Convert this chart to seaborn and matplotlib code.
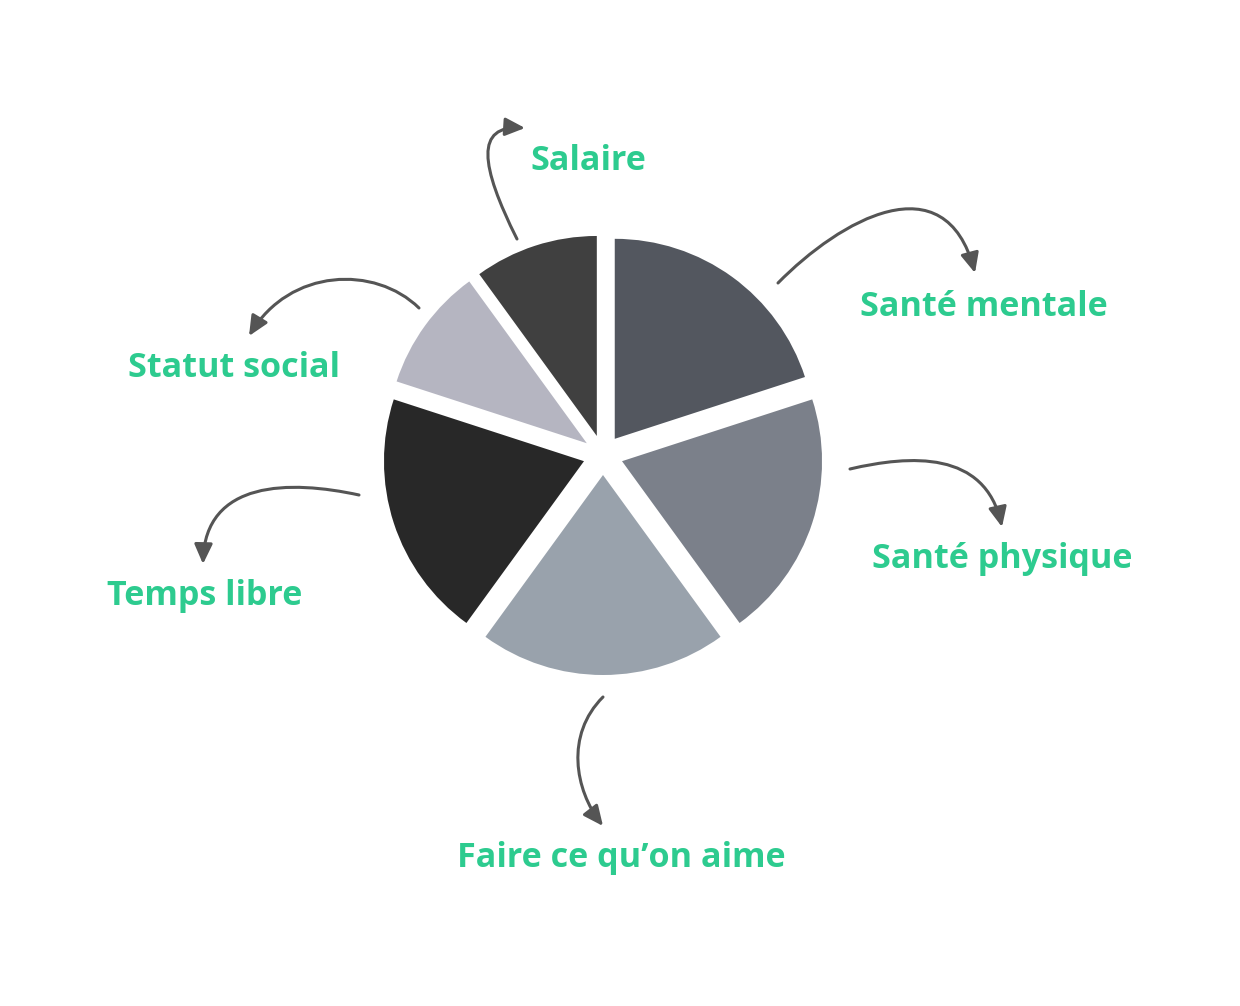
import matplotlib
matplotlib.use("Agg")
import matplotlib.pyplot as plt
import seaborn as sns
from matplotlib.path import Path
from matplotlib.patches import FancyArrowPatch

sns.set_theme(style="white")
plt.rcParams['font.family'] = ['Open Sans', 'DejaVu Sans']

# Data
categories = ["Santé mentale", "Santé physique", "Faire ce qu’on aime",
              "Temps libre", "Statut social", "Salaire"]
values = [20, 20, 20, 20, 10, 10]
colors = ["#53575f", "#7b808a", "#99a2ac", "#282828", "#b5b5c1", "#404040"]

W, H = 1240, 1006
fig = plt.figure(figsize=(W / 100, H / 100), dpi=100)
fig.patch.set_facecolor("white")

# Pie axes: center (603, 455) px, radius 200 px
cx, cy, r = 603, 455, 200
pax = fig.add_axes([(cx - r) / W, (H - cy - r) / H, 2 * r / W, 2 * r / H])
wedges, _ = pax.pie(values, colors=colors, startangle=90, counterclock=False,
                    explode=[0.1] * len(values), radius=1.0,
                    wedgeprops=dict(linewidth=0))
for w in wedges:
    w.set_clip_on(False)
pax.set_xlim(-1, 1)
pax.set_ylim(-1, 1)
pax.set_aspect("equal")
pax.axis("off")

# Overlay axes in pixel coordinates (y down)
ax = fig.add_axes([0, 0, 1, 1])
ax.set_xlim(0, W)
ax.set_ylim(H, 0)
ax.axis("off")
ax.patch.set_alpha(0)

green = "#2dcb8f"
labels = [
    ("Santé mentale", 860, 316),
    ("Santé physique", 872, 568),
    ("Faire ce qu’on aime", 457, 867),
    ("Temps libre", 107, 605),
    ("Statut social", 128, 377),
    ("Salaire", 530, 170),
]
for txt, x, y in labels:
    ax.text(x, y, txt, color=green, fontsize=24.6, fontweight="bold",
            ha="left", va="baseline")

curves = [
    [(778, 283), (840, 220), (945, 160), (975, 273)],
    [(850, 469), (910, 455), (985, 450), (1002, 527)],
    [(603, 697), (565, 735), (575, 790), (603, 826)],
    [(359, 495), (290, 480), (205, 480), (203, 564)],
    [(419, 308), (375, 265), (290, 268), (249, 336)],
    [(517, 239), (480, 165), (475, 125), (525, 128)],
]
for pts in curves:
    path = Path(pts, [Path.MOVETO, Path.CURVE4, Path.CURVE4, Path.CURVE4])
    arr = FancyArrowPatch(path=path, arrowstyle="-|>,head_length=1.2,head_width=0.55",
                          mutation_scale=10, color="#555555", linewidth=2.2,
                          shrinkA=0, shrinkB=0, transform=ax.transData)
    ax.add_patch(arr)

fig.savefig("out.png", dpi=100, facecolor="white")
